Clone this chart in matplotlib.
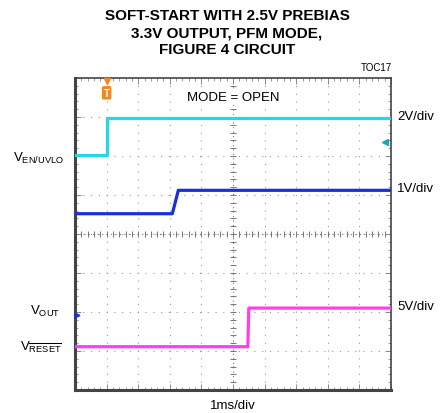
import numpy as np
import matplotlib
matplotlib.use("Agg")
import matplotlib.pyplot as plt

# ---- data (in screen divisions: x 0..10, y 0..8) ----
en_x = [0.0, 1.0, 1.0, 10.0]
en_y = [6.02, 6.02, 6.97, 6.97]
vout_x = [0.0, 3.08, 3.27, 10.0]
vout_y = [4.52, 4.52, 5.12, 5.12]
rst_x = [0.0, 5.47, 5.50, 10.0]
rst_y = [1.11, 1.11, 2.10, 2.10]

title_lines = ["SOFT-START WITH 2.5V PREBIAS", "3.3V OUTPUT, PFM MODE,", "FIGURE 4 CIRCUIT"]
scale_labels = ["2V/div", "1V/div", "5V/div"]
scale_y = [6.97, 5.12, 2.10]

plt.rcParams['font.family'] = ['Liberation Sans', 'DejaVu Sans']
plt.rcParams['mathtext.fontset'] = 'custom'
plt.rcParams['mathtext.rm'] = 'Liberation Sans'
plt.rcParams['mathtext.it'] = 'Liberation Sans'

W, H = 446, 414
fig = plt.figure(figsize=(W / 100, H / 100), dpi=100)
L, R, T, B = 75, 391, 79, 391
ax = fig.add_axes([L / W, 1 - B / H, (R - L) / W, (B - T) / H])
ax.set_xlim(0, 10)
ax.set_ylim(0, 8)

# grid
for k in range(1, 10):
    ax.axvline(k, color='#999999', lw=0.8, ls=(0, (1, 6)), zorder=1)
for k in range(1, 8):
    ax.axhline(k, color='#999999', lw=0.8, ls=(0, (1, 6)), zorder=1)
# center crosshair with ticks
ax.axhline(4, color='#777777', lw=0.8, ls=(0, (1, 3)), zorder=1)
ax.axvline(5, color='#777777', lw=0.8, ls=(0, (1, 3)), zorder=1)
mt_x = np.arange(0.2, 10, 0.2)
mt_y = np.arange(0.2, 8, 0.2)
ax.plot(mt_x, np.full_like(mt_x, 4), ls='none', marker='|', ms=4, mew=0.7, color='#777777', zorder=1)
ax.plot(np.full_like(mt_y, 5), mt_y, ls='none', marker='_', ms=4, mew=0.7, color='#777777', zorder=1)

# border ticks
ax.set_xticks(range(11))
ax.set_yticks(range(9))
ax.set_xticks(np.arange(0, 10.01, 0.2), minor=True)
ax.set_yticks(np.arange(0, 8.01, 0.2), minor=True)
ax.tick_params(which='both', direction='in', top=True, right=True, labelbottom=False, labelleft=False,
               color='#888888')
ax.tick_params(which='major', length=4, width=0.7)
ax.tick_params(which='minor', length=2.5, width=0.6)
for s in ax.spines.values():
    s.set_color('#444444')
    s.set_linewidth(1.2)
ax.spines['left'].set_linewidth(2.2)
ax.spines['bottom'].set_linewidth(2.2)

# traces
ax.plot(en_x, en_y, color='#22d8e6', lw=2.3, zorder=3)
ax.plot(en_x[1:3], en_y[1:3], color='#22d8e6', lw=0.9, zorder=3)
ax.plot(vout_x, vout_y, color='#1a2fd6', lw=2.3, zorder=3)
ax.plot(rst_x, rst_y, color='#ff3ef0', lw=2.3, zorder=3)
ax.plot(rst_x[1:3], rst_y[1:3], color='#ff3ef0', lw=0.9, zorder=3)

# markers
ax.plot([1.0], [7.93], marker='v', ms=5, color='#f08a20', clip_on=False, zorder=5)
ax.text(1.0, 7.62, 'T', color='white', fontsize=7, fontweight='bold', ha='center', va='center',
        bbox=dict(boxstyle='round,pad=0.18', fc='#f08a20', ec='none'), zorder=5)
ax.plot([9.82], [6.37], marker='<', ms=4, color='#1aa8b0', zorder=5)
ax.plot([9.82, 9.92], [6.37, 6.37], color='#1aa8b0', lw=1.2, zorder=5)
ax.plot([0.05], [1.93], marker='>', ms=3.5, color='#1a2fd6', zorder=5, clip_on=False)

ax.text(5.0, 7.52, 'MODE = OPEN', fontsize=9.5, ha='center', va='center', zorder=4,
        bbox=dict(fc='white', ec='none', pad=0.5))

# outside labels
def fx(px):
    return px / W
def fy(py):
    return 1 - py / H

ty = [16, 33, 50]
for t, y in zip(title_lines, ty):
    fig.text(fx(227), fy(y), t, fontsize=11, fontweight='bold', ha='center', va='center')
fig.text(fx(392), fy(68), 'TOC17', fontsize=7, ha='right', va='center')

for lab, yv in zip(scale_labels, scale_y):
    ax.text(10.2, yv + 0.05, lab, fontsize=9.5, ha='left', va='center', clip_on=False)

fig.text(fx(64), fy(158), r'V$_{\mathrm{EN/UVLO}}$', fontsize=9.5, ha='right', va='center')
fig.text(fx(60), fy(311), r'V$_{\mathrm{OUT}}$', fontsize=9.5, ha='right', va='center')
fig.text(fx(62), fy(347), r'V$_{\overline{\mathrm{RESET}}}$', fontsize=9.5, ha='right', va='center')
fig.text(fx(233), fy(406), '1ms/div', fontsize=9.5, ha='center', va='center')

fig.savefig('out.png', dpi=100)
